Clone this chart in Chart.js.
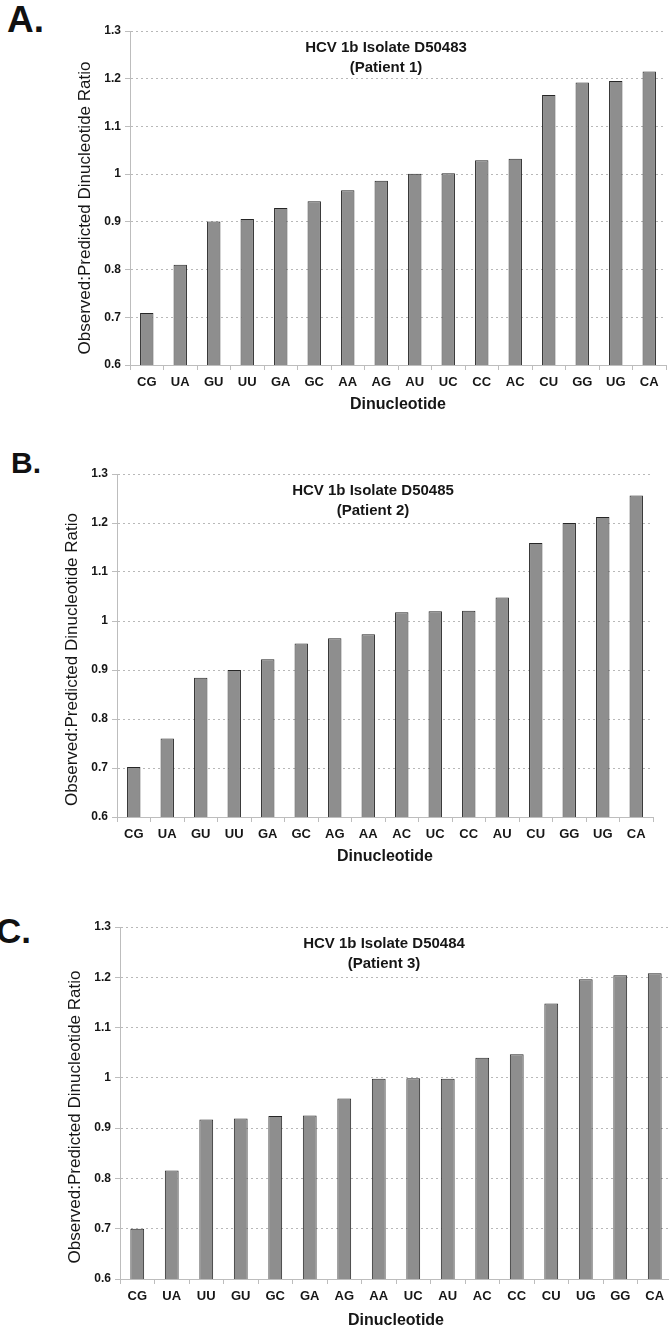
<!DOCTYPE html>
<html>
<head>
<meta charset="utf-8">
<script src="https://cdn.jsdelivr.net/npm/chart.js@4.4.1/dist/chart.umd.min.js"></script>
<style>
  html, body { margin: 0; padding: 0; background: #fff; overflow: hidden; }
  body { width: 669px; height: 1332px; position: relative; }
  canvas { position: absolute; left: 0; }
  .tag { position: absolute; font-family: "Liberation Sans", Arial, sans-serif; font-weight: bold; line-height: 1; color: #111; }
</style>
</head>
<body>
<div class="tag" id="tagA" style="left:7px;top:1px;font-size:37px">A.</div>
<div class="tag" id="tagB" style="left:11px;top:448px;font-size:30px">B.</div>
<div class="tag" id="tagC" style="left:-4px;top:913px;font-size:35px">C.</div>
<canvas id="chartA" width="669" height="425" style="top:0px"></canvas>
<canvas id="chartB" width="669" height="440" style="top:440px"></canvas>
<canvas id="chartC" width="680" height="452" style="top:880px"></canvas>
<script>
// ============ Data ============
const labelsA = ["CG","UA","GU","UU","GA","GC","AA","AG","AU","UC","CC","AC","CU","GG","UG","CA"];
const valuesA = [0.709,0.810,0.901,0.906,0.929,0.943,0.966,0.986,1.001,1.002,1.029,1.032,1.166,1.192,1.195,1.215];
const titleA  = ["HCV 1b Isolate D50483", "(Patient 1)"];

const labelsB = ["CG","UA","GU","UU","GA","GC","AG","AA","AC","UC","CC","AU","CU","GG","UG","CA"];
const valuesB = [0.702,0.760,0.884,0.900,0.922,0.954,0.965,0.973,1.018,1.020,1.021,1.048,1.159,1.200,1.212,1.256];
const titleB  = ["HCV 1b Isolate D50485", "(Patient 2)"];

const labelsC = ["CG","UA","UU","GU","GC","GA","AG","AA","UC","AU","AC","CC","CU","UG","GG","CA"];
const valuesC = [0.700,0.816,0.917,0.919,0.924,0.925,0.959,0.998,0.999,0.998,1.040,1.047,1.148,1.196,1.204,1.208];
const titleC  = ["HCV 1b Isolate D50484", "(Patient 3)"];

const xTitle = "Dinucleotide";
const yTitle = "Observed:Predicted Dinucleotide Ratio";
const yMin = 0.6, yMax = 1.3, yStep = 0.1;

// ============ Style ============
const FONT = '"Liberation Sans", Arial, Helvetica, sans-serif';
const BAR_FILL = "#8e8e8e";
const BAR_EDGE = "#262626";
const AXIS_GREY = "#bdbdbd";
const TEXT = "#161616";

// in-plot title + rotated y title (placed relative to the chart area)
const panelText = {
  id: "panelText",
  afterDraw(chart, args, opts){
    const { ctx, chartArea: a } = chart;
    ctx.save();
    ctx.fillStyle = TEXT;
    ctx.textAlign = "center";
    ctx.textBaseline = "alphabetic";
    ctx.font = `bold 15px ${FONT}`;
    const cx = (a.left + a.right) / 2 - 12;
    opts.lines.forEach((t, i) => ctx.fillText(t, cx, a.top + 20.5 + i * 20.5));
    ctx.font = `17px ${FONT}`;
    ctx.translate(a.left - 40, (a.top + a.bottom) / 2 + opts.yShift);
    ctx.rotate(-Math.PI / 2);
    ctx.fillText(yTitle, 0, 0);
    ctx.restore();
  }
};

function makePanel(id, labels, values, lines, L){
  const cv = document.getElementById(id);
  return new Chart(cv, {
    type: "bar",
    data: {
      labels: labels,
      datasets: [{
        data: values,
        backgroundColor: BAR_FILL,
        borderColor: BAR_EDGE,
        borderWidth: 1,
        barPercentage: 0.4,
        categoryPercentage: 1
      }]
    },
    options: {
      responsive: false,
      animation: false,
      devicePixelRatio: 1,
      layout: { padding: { top: L.plotTop, right: cv.width - L.plotRight, left: 0, bottom: 0 } },
      plugins: {
        legend: { display: false },
        tooltip: { enabled: false },
        panelText: { lines: lines, yShift: L.yShift }
      },
      scales: {
        x: {
          grid: { drawOnChartArea: false, drawTicks: true, tickLength: 5, color: AXIS_GREY, offset: true },
          border: { display: true, color: AXIS_GREY },
          ticks: { color: TEXT, padding: 5, maxRotation: 0, autoSkip: false, font: { family: FONT, size: 13, weight: "bold" } },
          title: { display: true, text: xTitle, color: TEXT, padding: { top: 0, bottom: L.xTitlePad }, font: { family: FONT, size: 16, weight: "bold" } },
          afterFit: (s) => { s.height = cv.height - L.plotBottom; }
        },
        y: {
          min: yMin, max: yMax,
          grid: { color: "#b8b8b8", tickBorderDash: [], tickColor: AXIS_GREY, tickLength: 5 },
          border: { display: true, color: AXIS_GREY, dash: [2, 3] },
          ticks: {
            stepSize: yStep, color: TEXT, padding: 4,
            font: { family: FONT, size: 12, weight: "bold" },
            callback: (v) => String(Number(Number(v).toFixed(1)))
          },
          afterFit: (s) => { s.width = L.axisLeft; }
        }
      }
    },
    plugins: [panelText]
  });
}

makePanel("chartA", labelsA, valuesA, titleA, { axisLeft: 130, plotTop: 31, plotRight: 666, plotBottom: 365, xTitlePad: 11, yShift: 10 });
makePanel("chartB", labelsB, valuesB, titleB, { axisLeft: 117, plotTop: 34, plotRight: 653, plotBottom: 377, xTitlePad: 14, yShift: 14 });
makePanel("chartC", labelsC, valuesC, titleC, { axisLeft: 120, plotTop: 47, plotRight: 672, plotBottom: 399, xTitlePad: 1.5, yShift: 14 });
</script>
</body>
</html>
